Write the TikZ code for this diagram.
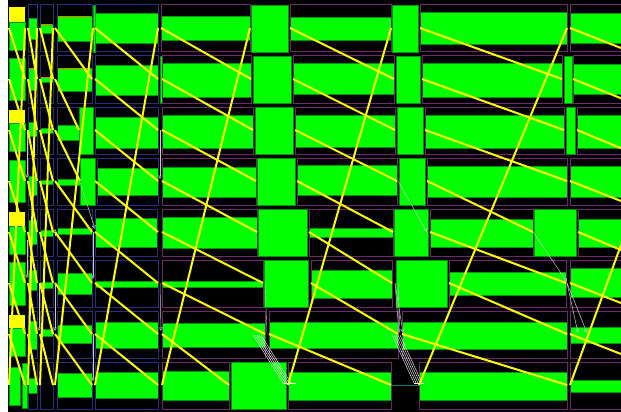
\documentclass[tikz,border=0pt]{standalone}
\usetikzlibrary{arrows.meta}
\definecolor{grn}{RGB}{0,255,0}
\definecolor{dgrn}{RGB}{0,150,0}
\definecolor{yel}{RGB}{255,255,0}
\definecolor{pur}{RGB}{110,40,110}
\definecolor{blu}{RGB}{45,45,125}
\definecolor{gry}{RGB}{200,200,200}
\definecolor{tealc}{RGB}{0,120,120}
\definecolor{orgc}{RGB}{230,120,0}
\begin{document}
\begin{tikzpicture}[x=1pt,y=-1pt,
  cellbox/.style={draw=pur,line width=1pt},
  cellboxb/.style={draw=blu,line width=1pt},
  bar/.style={fill=grn,draw=dgrn,line width=0.4pt},
  sq/.style={fill=grn,draw=dgrn,line width=0.5pt},
  ybar/.style={fill=yel},
  flow/.style={draw=yel,line width=2pt},
  thinarr/.style={draw=gry,line width=0.5pt,-{Triangle[open,length=3.5pt,width=3.5pt]}},
  thinln/.style={draw=gry,line width=0.4pt},
  orgline/.style={draw=orgc,line width=0.8pt}
]
\useasboundingbox (0,0) rectangle (621,412);
\fill[white] (0,0) rectangle (621,412);
\fill[black] (8,0) rectangle (621,412);
\begin{scope}
\clip (8,0) rectangle (621,412);
% ---------- column A (green / yellow stacks)
\foreach \r/\ga/\gb in {0/22/50,1/58/100,2/123/151,3/160/202,4/226/254,5/262/305,6/328/356}{
  \path[bar] (9,\ga) rectangle (25,\gb);
}
\foreach \ya/\yb in {7/22,110/123,212/226,315/328}{
  \path[ybar] (9,\ya) rectangle (25,\yb);
}
\path[bar] (9,367) rectangle (20,405);
\path[bar] (22,363) rectangle (27,408);
% ---------- blue-outlined boxes (left block)
\foreach \a/\b/\r/\ga/\gb in {
  28/37/0/18/39, 28/37/1/68/90, 28/37/2/122/136, 28/37/3/176/195,
  28/37/4/220/244, 28/37/5/270/290, 28/37/6/321/349, 28/37/7/378/393,
  40/53/0/24/33, 40/53/1/77/82, 40/53/2/128/133, 40/53/3/180/184,
  40/53/4/230/236, 40/53/5/282/288, 40/53/6/329/336,
  57/92/0/16/41, 57/92/1/68/91, 57/79/2/125/140, 57/80/3/179/185,
  57/92/4/228/234, 57/92/5/273/294, 57/92/6/325/343, 57/92/7/373/397,
  95/158/0/13/43, 95/158/1/65/95, 95/158/2/117/148, 97/158/3/168/195,
  95/157/4/218/247, 95/158/5/281/287, 95/158/6/322/348, 95/158/7/372/398}{
  \pgfmathsetmacro\t{5+51*\r}
  \pgfmathsetmacro\bt{\t+47}
  \path[bar] (\a,\ga) rectangle (\b,\gb);
  \draw[cellboxb] (\a,\t) rectangle (\b,\bt);
}
\draw[cellboxb] (40,362) rectangle (53,409);
\foreach \a/\b/\r in {93/95/0, 79/93/2, 80/95/3, 160/162/1}{
  \pgfmathsetmacro\t{5+51*\r}
  \pgfmathsetmacro\bt{\t+47}
  \path[sq] (\a,\t) rectangle (\b,\bt);
}
\draw[orgline] (41,24) -- (52,24);
\draw[orgline] (58,16) -- (91,16);
\draw[orgline] (58,68) -- (91,68);
\draw[orgline] (41,77) -- (52,77);
\draw[orgline] (29,68) -- (36,68);
% ---------- purple-outlined boxes
\foreach \a/\b/\r/\ga/\gb in {
  161/250/0/16/40, 162/251/1/63/97, 162/253/2/115/148, 162/256/3/167/197,
  162/257/4/217/248, 162/263/5/281/287, 162/265/6/323/347, 162/229/7/371/400,
  290/391/0/17/40, 293/394/1/63/94, 295/395/2/115/147, 297/397/3/165/195,
  309/393/4/228/237, 311/392/5/270/298, 269/398/6/322/348, 288/391/7/372/400,
  420/567/0/12/44, 422/562/1/63/97, 425/564/2/115/148, 427/567/3/166/197,
  430/533/4/219/247, 449/566/5/272/295, 402/567/6/322/349, 419/567/7/372/400,
  570/640/0/13/43, 573/640/1/64/94, 577/640/2/115/148, 570/640/3/166/197,
  578/640/4/219/247, 570/640/5/268/297, 570/640/6/327/343, 570/640/7/380/392}{
  \pgfmathsetmacro\t{5+51*\r}
  \pgfmathsetmacro\bt{\t+47}
  \path[bar] (\a,\ga) rectangle (\b,\gb);
  \draw[cellbox] (\a,\t) rectangle (\b,\bt);
}
% ---------- green squares
\foreach \a/\b/\r in {
  251/288/0, 253/291/1, 255/293/2, 257/295/3, 258/307/4, 264/308/5, 231/286/7,
  392/418/0, 396/420/1, 397/423/2, 399/425/3, 394/428/4, 396/447/5,
  564/572/1, 566/575/2, 534/576/4}{
  \pgfmathsetmacro\t{5+51*\r}
  \pgfmathsetmacro\bt{\t+47}
  \path[sq] (\a,\t) rectangle (\b,\bt);
}
% ---------- teal connector
\coordinate (tealA) at (391,385);
\coordinate (tealB) at (419,385);
\draw[tealc,line width=1pt] (tealA) -- (tealB);
% ---------- thin grey arrows
\draw[thinarr] (27,130) -- (27,178);
\draw[thinarr] (27,240) -- (27,278);
\draw[thinarr] (80,182) -- (95,229);
\draw[thinarr] (55,236) -- (55,229);
\draw[thinarr] (39,283) -- (39,331);
\draw[thinarr] (55,283) -- (55,331);
\draw[thinarr] (93,232) -- (93,279);
\draw[thinarr] (93,334) -- (93,381);
\draw[thinarr] (160,130) -- (160,179);
\draw[thinarr] (160,283) -- (161,331);
\draw[thinln] (265,283) -- (267,333);
\draw[thinln] (398,283) -- (400,333);
\draw[thinarr] (398,181) -- (427,232);
\draw[thinarr] (533,232) -- (567,282);
\draw[thinarr] (567,283) -- (578,333);
\draw[thinarr] (567,283) -- (587,333);
\draw[thinarr] (395,283) -- (399,333);
\draw[thinarr] (395,283) -- (403,333);
\foreach \d in {0,2,4,6,8}{
  \draw[thinln,white] (253+\d,335) -- (283+\d,383);
  \draw[thinln,white] (392+\d,335) -- (414+\d,383);
}
\draw[thinln,white] (283,383) -- (296,383);
\draw[thinln,white] (414,383) -- (424,383);
% ---------- yellow flow lines: (L_c(r), y_r) -> (R_c(r+1), y_{r+1})
\foreach \r in {0,...,6}{
  \pgfmathsetmacro\ya{28+51*\r}\pgfmathsetmacro\yb{\ya+51}
  \draw[flow] (9,\ya) -- (25,\yb);
  \draw[flow] (28,\ya) -- (37,\yb);
  \draw[flow] (40,\ya) -- (53,\yb);
  \draw[flow] (95,\ya) -- (158,\yb);
}
\foreach \r/\la/\rb in {0/55/92,1/55/79,2/55/80,3/55/92,4/55/92,5/55/92,6/55/92,
  0/161/251,1/162/253,2/162/256,3/162/257,4/162/263,5/162/265,6/162/229,
  0/290/394,1/293/395,2/295/397,3/297/393,4/309/392,5/311/398,6/269/391,
  0/420/562,1/422/564,2/425/567,3/427/533,4/430/566,5/449/567,6/402/567,
  0/570/700,1/573/700,2/577/700,3/570/700,4/578/700,5/570/700,6/570/700}{
  \pgfmathsetmacro\ya{28+51*\r}\pgfmathsetmacro\yb{\ya+51}
  \draw[flow] (\la,\ya) -- (\rb,\yb);
}
% steep returns: (L_c(7), y_7) -> (R_c(0), y_0)
\foreach \la/\rb in {9/25,28/37,40/53,55/93,95/158,162/250,288/391,419/567,570/700}{
  \draw[flow] (\la,385) -- (\rb,28);
}
\end{scope}
\end{tikzpicture}
\end{document}
